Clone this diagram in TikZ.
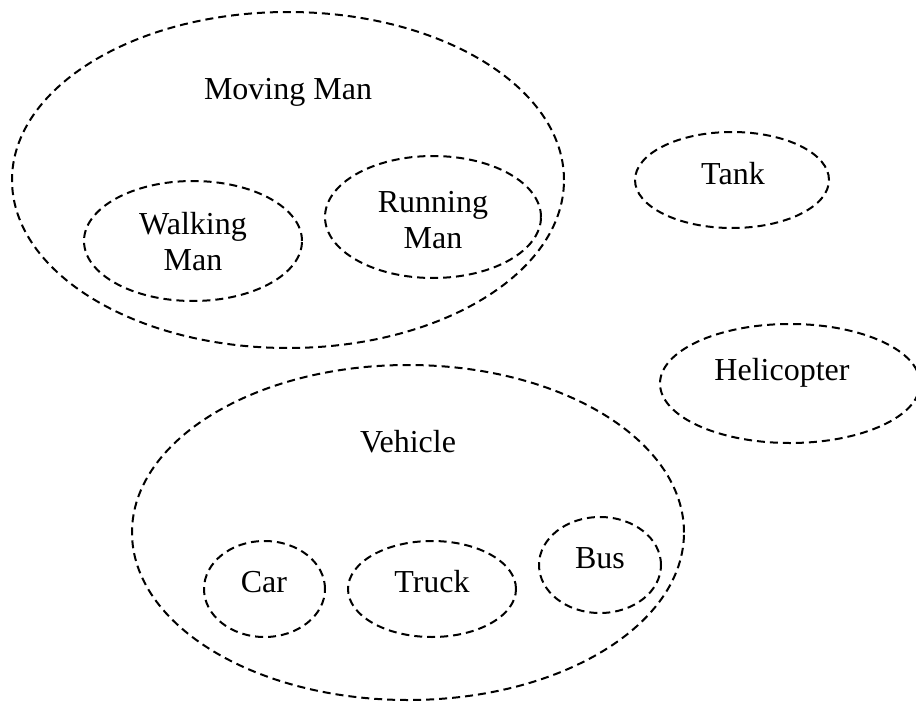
\documentclass[tikz,border=0pt]{standalone}
\usepackage{fontspec}
\setmainfont{Liberation Serif}
\usetikzlibrary{shapes.geometric}

\tikzset{
  region/.style={ellipse, draw, dash pattern=on 8pt off 5pt, line width=2pt,
                 inner sep=0pt, minimum width=#1},
  lbl/.style={font=\fontsize{32}{36}\selectfont, inner sep=0pt, align=center, anchor=base},
}

\begin{document}
\begin{tikzpicture}[x=1pt, y=-1pt]
  \useasboundingbox (0,0) rectangle (916,704);
  \clip (0,0) rectangle (916,704);

  % people group
  \node[region=552pt, minimum height=336pt] (moving)  at (288,180) {};
  \node[region=218pt, minimum height=120pt] (walking) at (193,241) {};
  \node[region=216pt, minimum height=122pt] (running) at (433,217) {};
  \node[lbl] (movingtxt)  at (288,99)  {Moving Man};
  % base anchor of a two-line label sits on its last line
  \node[lbl] (walkingtxt) at (193,270) {Walking\\Man};
  \node[lbl] (runningtxt) at (433,248) {Running\\Man};

  % standalone classes
  \node[region=194pt, minimum height=96pt]  (tank) at (732,180) {};
  \node[region=260pt, minimum height=119pt] (heli) at (790,383.5) {};
  \node[lbl] (tanktxt) at (733,184) {Tank};
  \node[lbl] (helitxt) at (782,380) {Helicopter};

  % vehicle group
  \node[region=552pt, minimum height=335pt] (vehicle) at (408,532.5) {};
  \node[region=121pt, minimum height=96pt]  (car)     at (264.5,589) {};
  \node[region=168pt, minimum height=96pt]  (truck)   at (432,589) {};
  \node[region=122pt, minimum height=96pt]  (bus)     at (600,565) {};
  \node[lbl] (vehicletxt) at (408,452) {Vehicle};
  \node[lbl] (cartxt)     at (264,592) {Car};
  \node[lbl] (trucktxt)   at (432,592) {Truck};
  \node[lbl] (bustxt)     at (600,568) {Bus};
\end{tikzpicture}
\end{document}
